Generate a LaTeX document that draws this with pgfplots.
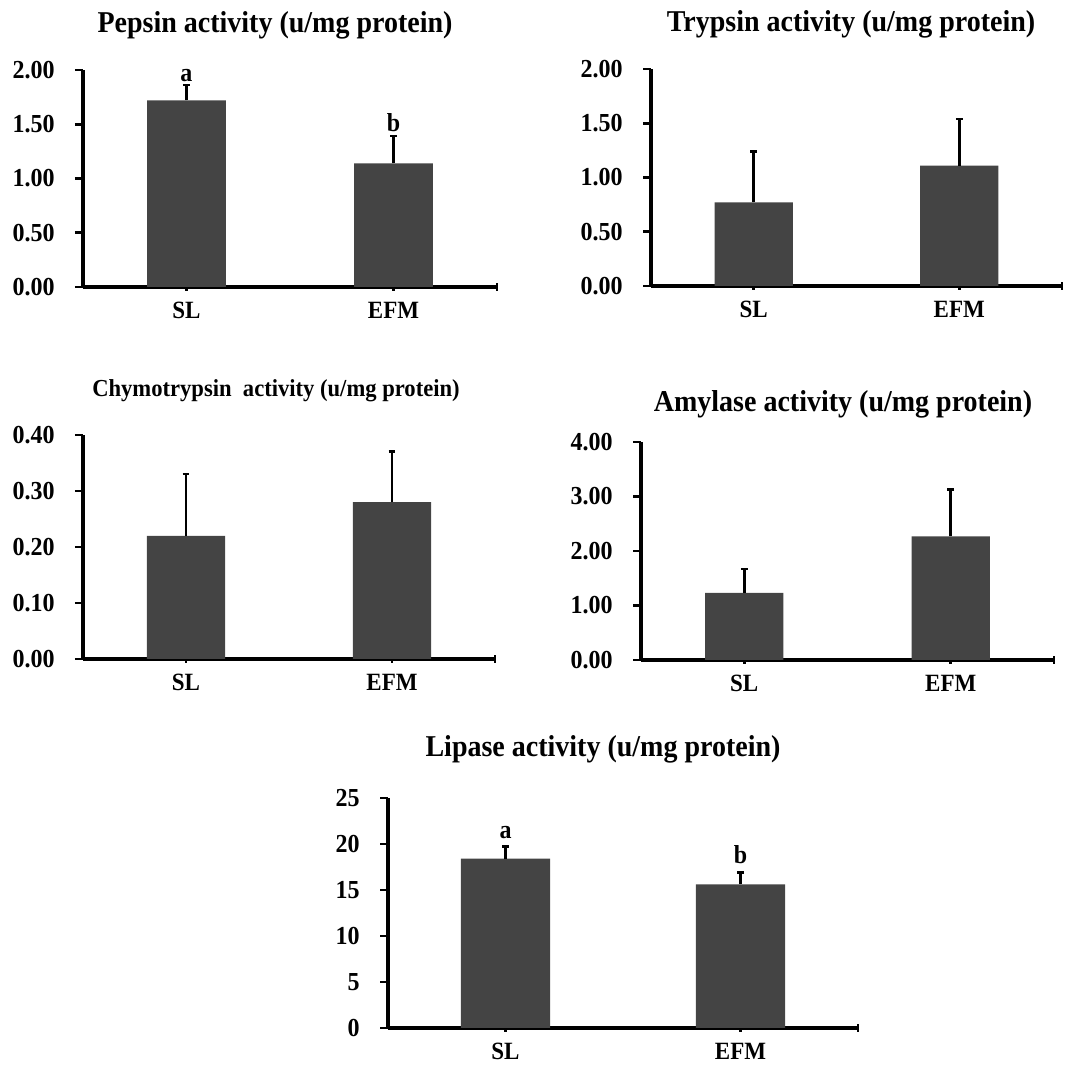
\documentclass[border=0pt]{standalone}
\usepackage{fontspec}
\setmainfont{Liberation Serif}
\usepackage{graphicx}
\usepackage{pgfplots}
\pgfplotsset{compat=1.18}
\definecolor{barc}{RGB}{68,68,68}
\newcommand{\st}[1]{\scalebox{1}[1.08]{#1}}
\pgfplotsset{
  panel/.style={
    scale only axis,
    axis lines=left,
    axis line style={-, line width=1.6pt, black},
    xmin=-0.5, xmax=1.5, ymin=0,
    enlargelimits=false,
    xtick={0,1,1.5},
    xticklabels={\st{SL},\st{EFM},{}},
    xtick align=center,
    ytick align=outside,
    major tick length=4pt,
    every tick/.style={black, line width=1.3pt},
    xticklabel style={font=\fontsize{11.5pt}{11.5pt}\selectfont\bfseries, anchor=north, inner sep=0pt, yshift=-5.5pt},
    yticklabel style={font=\fontsize{12pt}{12pt}\selectfont\bfseries, anchor=east, inner sep=0pt, xshift=-10pt},
    clip=false,
  },
  barplot/.style={
    ybar, bar width=0.38, fill=barc, draw=none, bar shift=0pt,
    error bars/.cd, y dir=plus, y explicit,
    error bar style={line width=1.3pt, black},
    error mark options={line width=1.3pt, mark size=1.7pt, black, rotate=90},
  },
}
\newcommand{\ttl}[1]{\fontsize{14pt}{14pt}\selectfont\bfseries\st{#1}}
\newcommand{\lab}{\fontsize{12pt}{12pt}\selectfont\bfseries}
\begin{document}
\begin{tikzpicture}
\path[use as bounding box] (0,0) rectangle (544pt,534pt);
% titles
\node[anchor=base, inner sep=0pt] at (137.5pt,517.5pt) {\ttl{Pepsin activity (u/mg protein)}};
\node[anchor=base, inner sep=0pt] at (425.5pt,518pt) {\ttl{Trypsin activity (u/mg protein)}};
\node[anchor=base, inner sep=0pt] at (138pt,335.5pt) {\fontsize{11.3pt}{11.3pt}\selectfont\bfseries\st{Chymotrypsin\ \ activity (u/mg protein)}};
\node[anchor=base, inner sep=0pt] at (421.5pt,328pt) {\ttl{Amylase activity (u/mg protein)}};
\node[anchor=base, inner sep=0pt] at (301.5pt,155.5pt) {\ttl{Lipase activity (u/mg protein)}};

% Pepsin
\begin{axis}[panel, at={(41.5pt,390.5pt)}, anchor=south west, width=207pt, height=108.5pt,
  ymax=2, ytick={0,0.5,1,1.5,2}, yticklabels={\st{0.00},\st{0.50},\st{1.00},\st{1.50},\st{2.00}}]
\addplot[barplot] coordinates {(0,1.72) +- (0,0.14) (1,1.14) +- (0,0.25)};
\node[anchor=south, inner sep=0pt, yshift=1.5pt, font=\lab] at (axis cs:0,1.86) {\st{a}};
\node[anchor=south, inner sep=0pt, yshift=2pt, font=\lab] at (axis cs:1,1.39) {\st{b}};
\end{axis}

% Trypsin
\begin{axis}[panel, at={(325.5pt,391pt)}, anchor=south west, width=205.5pt, height=108.5pt,
  ymax=2, ytick={0,0.5,1,1.5,2}, yticklabels={\st{0.00},\st{0.50},\st{1.00},\st{1.50},\st{2.00}}]
\addplot[barplot] coordinates {(0,0.77) +- (0,0.47) (1,1.11) +- (0,0.43)};
\end{axis}

% Chymotrypsin
\begin{axis}[panel, at={(41.5pt,204.5pt)}, anchor=south west, width=206pt, height=112pt,
  ymax=0.4, ytick={0,0.1,0.2,0.3,0.4}, yticklabels={\st{0.00},\st{0.10},\st{0.20},\st{0.30},\st{0.40}}]
\addplot[barplot] coordinates {(0,0.22) +- (0,0.11) (1,0.28) +- (0,0.09)};
\end{axis}

% Amylase
\begin{axis}[panel, at={(320.5pt,204pt)}, anchor=south west, width=206.5pt, height=109pt,
  ymax=4, ytick={0,1,2,3,4}, yticklabels={\st{0.00},\st{1.00},\st{2.00},\st{3.00},\st{4.00}}]
\addplot[barplot] coordinates {(0,1.23) +- (0,0.44) (1,2.27) +- (0,0.86)};
\end{axis}

% Lipase
\begin{axis}[panel, at={(194pt,20pt)}, anchor=south west, width=235pt, height=115pt,
  ymax=25, ytick={0,5,10,15,20,25}, yticklabels={\st{0},\st{5},\st{10},\st{15},\st{20},\st{25}}]
\addplot[barplot] coordinates {(0,18.4) +- (0,1.35) (1,15.6) +- (0,1.3)};
\node[anchor=south, inner sep=0pt, yshift=3.5pt, font=\lab] at (axis cs:0,19.75) {\st{a}};
\node[anchor=south, inner sep=0pt, yshift=4pt, font=\lab] at (axis cs:1,16.9) {\st{b}};
\end{axis}
\end{tikzpicture}
\end{document}
